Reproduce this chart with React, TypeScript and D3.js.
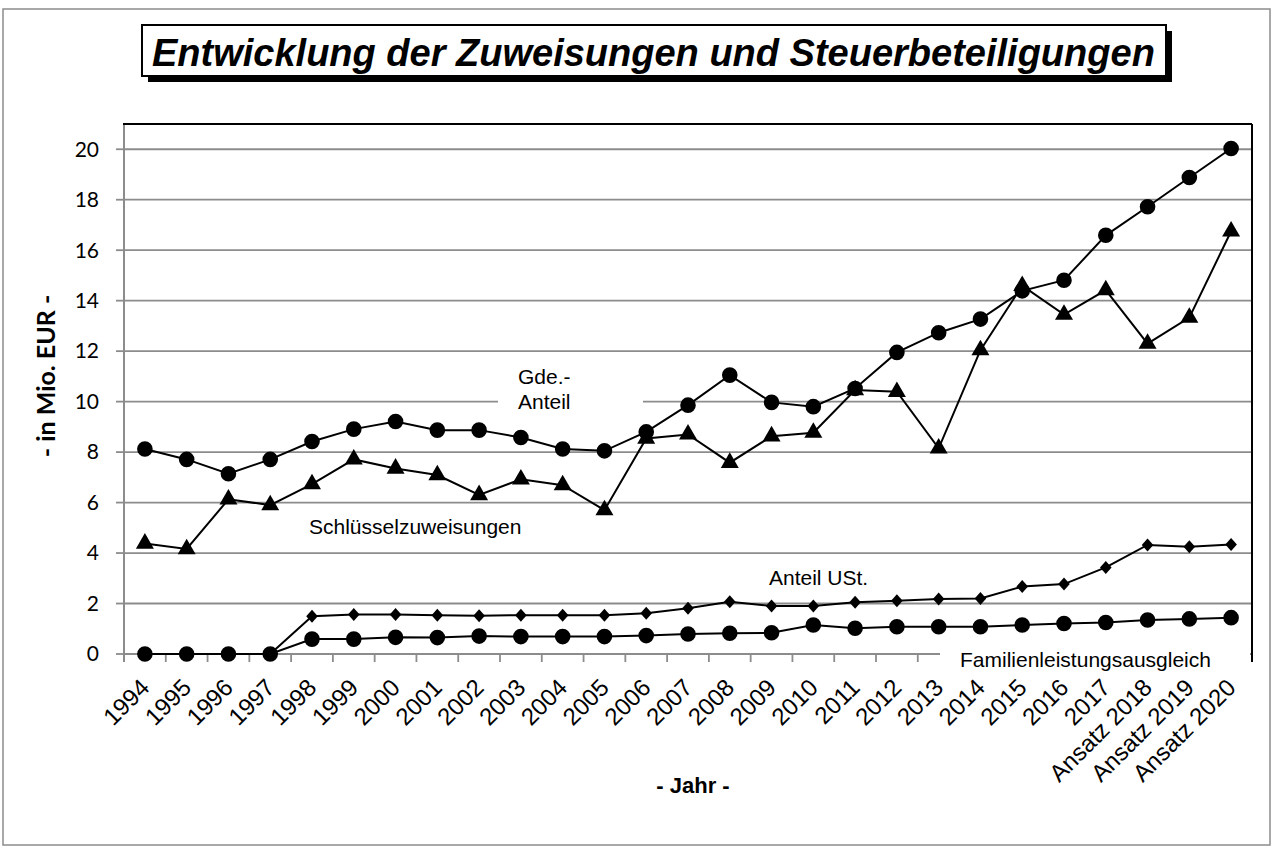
import React from 'react';
import * as d3 from 'd3';

const years = [
  '1994', '1995', '1996', '1997', '1998', '1999', '2000', '2001', '2002',
  '2003', '2004', '2005', '2006', '2007', '2008', '2009', '2010', '2011',
  '2012', '2013', '2014', '2015', '2016', '2017', 'Ansatz 2018', 'Ansatz 2019', 'Ansatz 2020',
];

// Gde.-Anteil (Kreise, oben)
const gdeAnteil = [
  8.12, 7.71, 7.14, 7.71, 8.42, 8.91, 9.21, 8.87, 8.87,
  8.58, 8.12, 8.05, 8.8, 9.86, 11.05, 9.97, 9.8, 10.52,
  11.95, 12.73, 13.27, 14.39, 14.81, 16.59, 17.72, 18.88, 20.03,
];

// Schlüsselzuweisungen (Dreiecke)
const schluesselzuweisungen = [
  4.38, 4.16, 6.13, 5.9, 6.73, 7.71, 7.35, 7.09, 6.3,
  6.92, 6.69, 5.7, 8.54, 8.7, 7.58, 8.63, 8.77, 10.46,
  10.39, 8.15, 12.04, 14.59, 13.45, 14.42, 12.3, 13.33, 16.75,
];

// Anteil USt. (Rauten)
const anteilUSt = [
  0, 0, 0, 0, 1.5, 1.57, 1.57, 1.54, 1.52,
  1.54, 1.54, 1.54, 1.61, 1.81, 2.07, 1.9, 1.9, 2.05,
  2.11, 2.18, 2.2, 2.67, 2.77, 3.43, 4.32, 4.25, 4.34,
];

// Familienleistungsausgleich (Kreise, unten)
const familienleistungsausgleich = [
  0, 0, 0, 0, 0.59, 0.59, 0.66, 0.65, 0.71,
  0.69, 0.69, 0.69, 0.73, 0.79, 0.82, 0.84, 1.15, 1.02,
  1.08, 1.08, 1.08, 1.15, 1.21, 1.25, 1.35, 1.39, 1.44,
];

const yTicks = [0, 2, 4, 6, 8, 10, 12, 14, 16, 18, 20];

const W = 1279, H = 850;
const left = 124, right = 1252, top = 124, bottom = 654;

const labelFont = '"Liberation Sans", Arial, sans-serif';
const tickFont = 'Lato, "Open Sans", sans-serif';

const x = d3.scaleBand().domain(years).range([left, right]);
const y = d3.scaleLinear().domain([0, 21]).range([bottom, top]);
const cx = (d: string) => (x(d) as number) + x.bandwidth() / 2;

const line = d3.line<number>()
  .x((_, i) => cx(years[i]))
  .y(d => y(d));

const circle = d3.symbol().type(d3.symbolCircle).size(Math.PI * 7.8 * 7.8)();
const triangle = d3.symbol().type(d3.symbolTriangle).size(140)();
const diamond = 'M0,-6.5L5.8,0L0,6.5L-5.8,0Z';

const series = [
  { values: gdeAnteil, marker: circle },
  { values: schluesselzuweisungen, marker: triangle },
  { values: anteilUSt, marker: diamond },
  { values: familienleistungsausgleich, marker: circle },
];

const gridColor = '#8c8c8c';

export default function App() {
  const bounds = [...years.map(d => x(d) as number), right];
  return (
    <svg width={W} height={H} style={{ position: 'absolute', left: 0, top: 0, background: '#fff' }}>
      {/* äußerer Rahmen */}
      <rect x={3} y={9} width={1267} height={836} fill="#fff" stroke="#8c8c8c" strokeWidth={1.5} />

      {/* Titel mit Schatten */}
      <rect x={148} y={31} width={1024} height={51} fill="#000" />
      <rect x={142} y={25} width={1024} height={51} fill="#fff" stroke="#000" strokeWidth={2} />
      <text x={152} y={66} fontFamily={labelFont} fontWeight="bold" fontStyle="italic" fontSize={38} fill="#000">
        Entwicklung der Zuweisungen und Steuerbeteiligungen
      </text>

      {/* Gitterlinien */}
      {yTicks.map(t => (
        <g key={t}>
          <line x1={left} x2={right} y1={y(t)} y2={y(t)} stroke={gridColor} strokeWidth={1.8} />
          <line x1={left - 8} x2={left} y1={y(t)} y2={y(t)} stroke={gridColor} strokeWidth={1.8} />
          <text x={99} y={y(t)} dy="0.35em" textAnchor="end" fontFamily={tickFont} fontSize={21} fill="#000">
            {t}
          </text>
        </g>
      ))}

      {/* Achsen */}
      <line x1={left} x2={left} y1={top} y2={bottom + 8} stroke={gridColor} strokeWidth={2} />
      <line x1={left} x2={right} y1={bottom} y2={bottom} stroke={gridColor} strokeWidth={2} />
      {bounds.map((b, i) => (
        <line key={i} x1={b} x2={b} y1={bottom} y2={bottom + 8} stroke={gridColor} strokeWidth={1.8} />
      ))}
      <line x1={left - 1} x2={right} y1={top} y2={top} stroke="#000" strokeWidth={2} />
      <line x1={right} x2={right} y1={top} y2={bottom + 8} stroke="#000" strokeWidth={2} />

      {/* Beschriftungen mit weißem Hintergrund */}
      <rect x={498} y={362} width={145} height={52} fill="#fff" />
      <text x={518} y={384} fontFamily={labelFont} fontSize={21} fill="#000">Gde.-</text>
      <text x={518} y={409} fontFamily={labelFont} fontSize={21} fill="#000">Anteil</text>
      <text x={309} y={534} fontFamily={labelFont} fontSize={21} fill="#000">Schlüsselzuweisungen</text>
      <text x={769} y={585} fontFamily={labelFont} fontSize={21} fill="#000">Anteil USt.</text>
      <rect x={940} y={647} width={310} height={26} fill="#fff" />
      <text x={960} y={667} fontFamily={labelFont} fontSize={21} fill="#000">Familienleistungsausgleich</text>

      {/* Datenreihen */}
      {series.map((s, si) => (
        <g key={si}>
          <path d={line(s.values) as string} fill="none" stroke="#000" strokeWidth={2} />
          {s.values.map((v, i) => (
            <path key={i} d={s.marker as string} transform={`translate(${cx(years[i])},${y(v)})`} fill="#000" />
          ))}
        </g>
      ))}

      {/* x-Achsenbeschriftung */}
      {years.map(d => (
        <text
          key={d}
          transform={`translate(${cx(d) + 6},689) rotate(-45)`}
          textAnchor="end"
          fontFamily={labelFont}
          fontSize={24}
          fill="#000"
        >
          {d}
        </text>
      ))}

      {/* Achsentitel */}
      <text
        transform="translate(55,376) rotate(-90)"
        textAnchor="middle"
        fontFamily={tickFont}
        fontWeight="bold"
        fontSize={25}
        fill="#000"
      >
        - in Mio. EUR -
      </text>
      <text x={693} y={793} textAnchor="middle" fontFamily={labelFont} fontWeight="bold" fontSize={22} fill="#000">
        - Jahr -
      </text>
    </svg>
  );
}
